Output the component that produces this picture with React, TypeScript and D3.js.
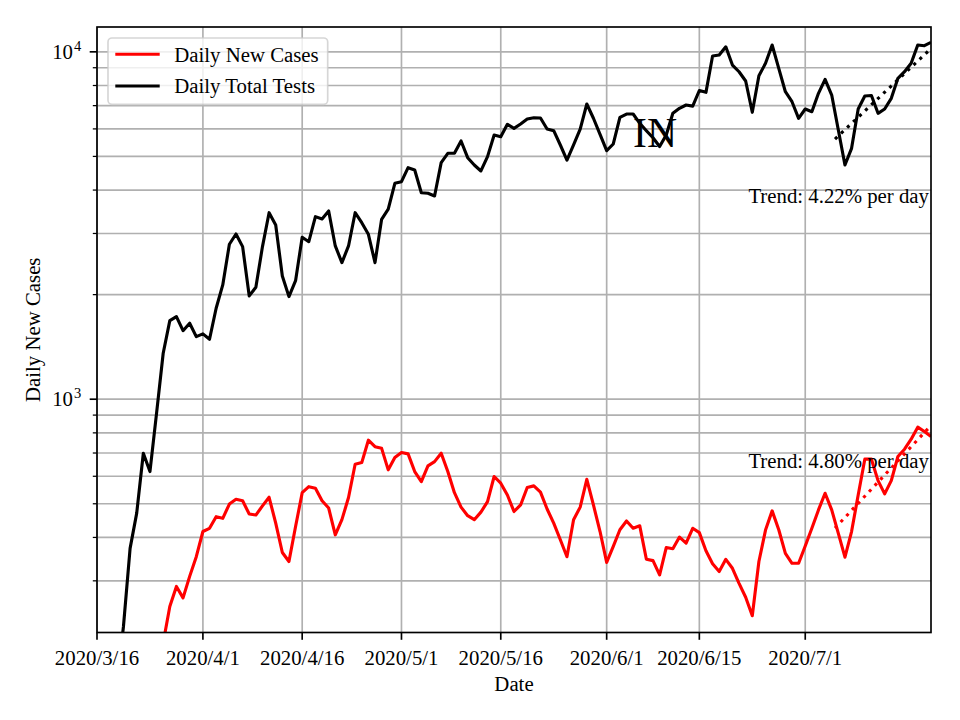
import React from 'react';
import * as d3 from 'd3';

// ---- data (daily values, first entry at the given start day) ----
const axisStart = '2020-03-16';
const axisEnd = '2020-07-20';

const testsStart = '2020-03-19';
const testsValues = [
  150, 222, 372, 470, 699, 619, 912, 1356, 1683, 1729, 1575, 1655, 1514, 1542, 1488, 1828, 2133, 2793,
  2990, 2749, 1983, 2100, 2750, 3443, 3174, 2263, 1974, 2194, 2926, 2841, 3354, 3303, 3483, 2762, 2473,
  2762, 3443, 3223, 2984, 2473, 3296, 3523, 4183, 4228, 4640, 4570, 3931, 3915, 3846, 4797, 5104, 5104,
  5538, 4958, 4723, 4540, 4992, 5763, 5698, 6185, 6020, 6196, 6405, 6461, 6450, 5995, 5930, 5393, 4882,
  5393, 5995, 7076, 6440, 5788, 5193, 5429, 6478, 6622, 6622, 6226, 5930, 5658, 5340, 5760, 6653, 6879,
  7029, 6979, 7740, 7645, 9725, 9790, 10337, 9162, 8765, 8241, 6698, 8538, 9266, 10462, 8964, 7678, 7185,
  6436, 6845, 6724, 7597, 8334, 7511, 5957, 4723, 5276, 6845, 7461, 7484, 6653, 6845, 7347, 8389, 8765,
  9266, 10462, 10414, 10650,
];

const casesStart = '2020-03-25';
const casesValues = [
  170, 199, 253, 289, 268, 309, 352, 416, 425, 459, 454, 499, 515, 510, 467, 464, 493, 522, 440, 362,
  341, 430, 538, 560, 554, 510, 486, 407, 450, 521, 650, 657, 762, 730, 722, 626, 679, 702, 696, 619,
  579, 643, 661, 699, 619, 538, 489, 462, 450, 473, 507, 599, 573, 530, 475, 496, 557, 563, 540, 483,
  440, 394, 352, 450, 489, 588, 496, 416, 339, 377, 421, 446, 425, 432, 346, 343, 312, 374, 371, 401,
  385, 425, 413, 366, 336, 319, 346, 326, 295, 269, 238, 341, 420, 477, 421, 360, 337, 337, 378, 425,
  480, 536, 480, 411, 351, 416, 530, 672, 672, 583, 534, 583, 684, 718, 767, 831, 807, 781,
];

const trendTestsDates = ['2020-07-05T12:00', '2020-07-20T00:00'];
const trendTestsValues = [5611, 10221];
const trendCasesDates = ['2020-07-05T12:00', '2020-07-20T00:00'];
const trendCasesValues = [425.5, 840];

const xTickDates = ['2020-03-16', '2020-04-01', '2020-04-16', '2020-05-01', '2020-05-16', '2020-06-01', '2020-06-15', '2020-07-01'];
const xTickLabels = ['2020/3/16', '2020/4/1', '2020/4/16', '2020/5/1', '2020/5/16', '2020/6/1', '2020/6/15', '2020/7/1'];
const yMajorTicks = [1000, 10000];
const yMajorExp = ['3', '4'];

const seriesNames = ['Daily New Cases', 'Daily Total Tests'];
const trendLabels = ['Trend: 4.22% per day', 'Trend: 4.80% per day'];
const titleText = 'IN';
const xLabel = 'Date';
const yLabel = 'Daily New Cases';

// ---- layout ----
const W = 960, H = 720;
const L = 97, R = 931, T = 27, B = 632.5;
const FONT = '"Liberation Serif", "Times New Roman", serif';
const FS = 20.8;
const GRID = '#b0b0b0';

const parse = (s: string) => new Date(s.includes('T') ? s + 'Z' : s + 'T00:00:00Z');

export default function App() {
  const x = d3.scaleUtc().domain([parse(axisStart), parse(axisEnd)]).range([L, R]);
  const y = d3.scaleLog().domain([213, 11790]).range([B, T]);

  const mk = (start: string, vals: number[]) => {
    const s = parse(start);
    return vals.map((v, i) => ({ date: d3.utcDay.offset(s, i), value: v }));
  };
  const tests = mk(testsStart, testsValues);
  const cases = mk(casesStart, casesValues);
  const trendT = trendTestsDates.map((d, i) => ({ date: parse(d), value: trendTestsValues[i] }));
  const trendC = trendCasesDates.map((d, i) => ({ date: parse(d), value: trendCasesValues[i] }));

  const line = d3.line<{ date: Date; value: number }>().x((d) => x(d.date)).y((d) => y(d.value));

  const minorTicks: number[] = [];
  for (const dec of [100, 1000, 10000]) {
    for (let k = 2; k <= 9; k++) {
      const v = k * dec;
      if (v > 213 && v < 11790) minorTicks.push(v);
    }
  }

  return (
    <svg width={W} height={H} style={{ display: 'block', margin: '-8px' }} fontFamily={FONT}>
      <rect width={W} height={H} fill="#fff" />
      <defs>
        <clipPath id="plot">
          <rect x={L} y={T} width={R - L} height={B - T} />
        </clipPath>
      </defs>
      {/* grid */}
      <g stroke={GRID} strokeWidth={1.67}>
        {xTickDates.map((d) => (
          <line key={d} x1={x(parse(d))} x2={x(parse(d))} y1={T} y2={B} />
        ))}
        {[...minorTicks, ...yMajorTicks].map((v) => (
          <line key={v} x1={L} x2={R} y1={y(v)} y2={y(v)} />
        ))}
      </g>
      {/* series */}
      <g clipPath="url(#plot)" fill="none" strokeWidth={3.125} strokeLinejoin="round">
        <path d={line(cases) || ''} stroke="#ff0000" />
        <path d={line(tests) || ''} stroke="#000000" />
        <path d={line(trendT) || ''} stroke="#000000" strokeDasharray="3.1,5.2" />
        <path d={line(trendC) || ''} stroke="#ff0000" strokeDasharray="3.1,5.2" />
      </g>
      {/* texts */}
      <text x={655} y={147} fontSize={41.7} textAnchor="middle">{titleText}</text>
      <text x={929} y={203} fontSize={FS} textAnchor="end">{trendLabels[0]}</text>
      <text x={929} y={468} fontSize={FS} textAnchor="end">{trendLabels[1]}</text>
      {/* legend */}
      <g>
        <rect x={108} y={38} width={219.7} height={66.3} rx={4} fill="#fff" fillOpacity={0.8} stroke="#cccccc" strokeOpacity={0.8} strokeWidth={1.67} />
        <line x1={115.3} x2={159.7} y1={54.3} y2={54.3} stroke="#ff0000" strokeWidth={3.125} />
        <line x1={115.3} x2={159.7} y1={86} y2={86} stroke="#000" strokeWidth={3.125} />
        <text x={174.3} y={61.5} fontSize={FS}>{seriesNames[0]}</text>
        <text x={174.3} y={93} fontSize={FS}>{seriesNames[1]}</text>
      </g>
      {/* frame */}
      <rect x={L} y={T} width={R - L} height={B - T} fill="none" stroke="#000" strokeWidth={1.67} />
      {/* x ticks */}
      <g>
        {xTickDates.map((d, i) => (
          <g key={d} transform={`translate(${x(parse(d))},0)`}>
            <line y1={B} y2={B + 7.3} stroke="#000" strokeWidth={1.67} />
            <text y={665} fontSize={FS} textAnchor="middle">{xTickLabels[i]}</text>
          </g>
        ))}
      </g>
      {/* y ticks */}
      <g>
        {minorTicks.map((v) => (
          <line key={v} x1={L - 4.2} x2={L} y1={y(v)} y2={y(v)} stroke="#000" strokeWidth={1.25} />
        ))}
        {yMajorTicks.map((v, i) => (
          <g key={v}>
            <line x1={L - 7.3} x2={L} y1={y(v)} y2={y(v)} stroke="#000" strokeWidth={1.67} />
            <text x={73} y={y(v) + 7} fontSize={FS} textAnchor="end">10</text>
            <text x={74} y={y(v) - 1} fontSize={14.5} textAnchor="start">{yMajorExp[i]}</text>
          </g>
        ))}
      </g>
      {/* axis labels */}
      <text x={(L + R) / 2} y={691} fontSize={FS} textAnchor="middle">{xLabel}</text>
      <text transform={`translate(40,${(T + B) / 2}) rotate(-90)`} fontSize={FS} textAnchor="middle">{yLabel}</text>
    </svg>
  );
}
